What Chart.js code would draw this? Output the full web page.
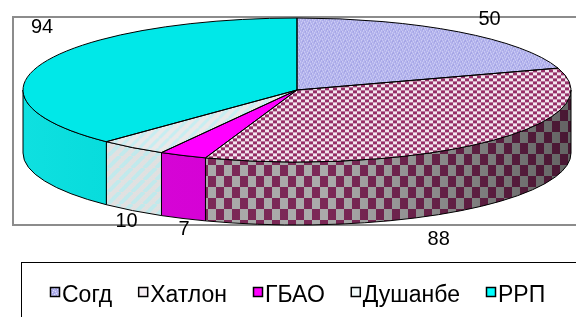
<!DOCTYPE html>
<html>
<head>
<meta charset="utf-8">
<script src="https://cdn.jsdelivr.net/npm/chart.js@4/dist/chart.umd.min.js"></script>
<style>
html, body { margin: 0; padding: 0; background: #fff; }
canvas { display: block; }
</style>
</head>
<body>
<canvas id="regionChart" width="576" height="317"></canvas>
<script>
const regions = ["Согд", "Хатлон", "ГБАО", "Душанбе", "РРП"];
const counts = [50, 88, 7, 10, 94];

// tilted pie geometry (screen pixels)
const CX = 297, CY = 90, RX = 274, RY = 72, DEPTH = 63;
const FONT = "'Liberation Sans', Arial, sans-serif";

function makePattern(w, h, draw, squash) {
    const c = document.createElement("canvas");
    c.width = w;
    c.height = h;
    const g = c.getContext("2d");
    draw(g, w, h);
    const p = g.createPattern(c, "repeat");
    if (squash) {
        // top face is drawn in a y-squashed space, undo it for the tile
        p.setTransform(new DOMMatrix([1, 0, 0, RX / RY, 0, 0]));
    }
    return p;
}

function speckle(g) {
    g.fillStyle = "#b2b2ec";
    g.fillRect(0, 0, 6, 6);
    g.fillStyle = "#dcdcfa";
    [[0, 0], [3, 1], [1, 3], [4, 4], [2, 5], [5, 2]].forEach(p => g.fillRect(p[0], p[1], 1, 1));
    g.fillStyle = "#9a9ae0";
    [[2, 1], [5, 5], [0, 4]].forEach(p => g.fillRect(p[0], p[1], 1, 1));
}

function checker(cw, ch, dark, light) {
    return (g) => {
        g.fillStyle = light;
        g.fillRect(0, 0, cw * 2, ch * 2);
        g.fillStyle = dark;
        g.fillRect(0, 0, cw, ch);
        g.fillRect(cw, ch, cw, ch);
    };
}

function stripes(size, base, line, width) {
    return (g) => {
        g.fillStyle = base;
        g.fillRect(0, 0, size, size);
        g.strokeStyle = line;
        g.lineWidth = width;
        g.beginPath();
        for (let k = -1; k <= 1; k++) {
            g.moveTo(k * size, size);
            g.lineTo(k * size + size, 0);
        }
        g.stroke();
    };
}

const topFills = [
    makePattern(6, 6, speckle, true),
    makePattern(8, 6, checker(4, 3, "#962f68", "#f3e6ef"), true),
    "#ff00ff",
    makePattern(10, 10, stripes(10, "#e9e9e9", "#c6eef2", 3), true),
    "#00e8e8"
];

const sideFills = [
    "#a0a0dc",
    makePattern(16, 22, checker(8, 11, "#7c2857", "#ababab"), false),
    "#d800d8",
    makePattern(12, 12, stripes(12, "#e3e3e3", "#c2ecef", 4), false),
    "#00dede"
];

const legendFills = [
    makePattern(6, 6, speckle, false),
    "#f6eef3",
    "#ff00ff",
    "#f2fafa",
    "#00ffff"
];

// label offsets from the slice edge point
const labelNudge = [[31, -14], [-49, 33], [1, 10], [-6, 9], [-1, -37]];

function ellipsePath(ctx, y, a1, a2, ccw) {
    ctx.ellipse(CX, y, RX, RY, 0, a1, a2, ccw);
}

const pie3d = {
    id: "pie3d",

    beforeDraw(chart) {
        const ctx = chart.ctx;
        ctx.save();
        ctx.strokeStyle = "#8c8c8c";
        ctx.lineWidth = 2;
        ctx.strokeRect(13, 17, 600, 208);
        ctx.restore();
    },

    beforeDatasetsDraw(chart) {
        const ctx = chart.ctx;
        const arcs = chart.getDatasetMeta(0).data;

        // front walls
        const shade = ctx.createLinearGradient(CX - RX, 0, CX + RX, 0);
        shade.addColorStop(0, "rgba(255,255,255,0.06)");
        shade.addColorStop(0.55, "rgba(0,0,0,0)");
        shade.addColorStop(1, "rgba(0,0,0,0.42)");

        ctx.save();
        arcs.forEach((arc, i) => {
            const s = Math.max(arc.startAngle, 0);
            const e = Math.min(arc.endAngle, Math.PI);
            if (e <= s) return;
            ctx.beginPath();
            ellipsePath(ctx, CY, s, e, false);
            ellipsePath(ctx, CY + DEPTH, e, s, true);
            ctx.closePath();
            ctx.fillStyle = sideFills[i];
            ctx.fill();
            ctx.fillStyle = shade;
            ctx.fill();
            ctx.strokeStyle = "#000";
            ctx.lineWidth = 1;
            ctx.stroke();
        });
        ctx.restore();

        // squash the library's round pie into the top ellipse
        const a = arcs[0];
        ctx.save();
        ctx.translate(CX, CY);
        ctx.scale(RX / a.outerRadius, RY / a.outerRadius);
        ctx.translate(-a.x, -a.y);
    },

    afterDatasetsDraw(chart) {
        const ctx = chart.ctx;
        ctx.restore();

        const arcs = chart.getDatasetMeta(0).data;

        ctx.save();
        ctx.strokeStyle = "#000";
        ctx.lineWidth = 1;
        arcs.forEach(arc => {
            ctx.beginPath();
            ctx.moveTo(CX, CY);
            ellipsePath(ctx, CY, arc.startAngle, arc.endAngle, false);
            ctx.closePath();
            ctx.stroke();
        });

        // value labels
        ctx.fillStyle = "#000";
        ctx.font = "20px " + FONT;
        ctx.textAlign = "center";
        ctx.textBaseline = "alphabetic";
        arcs.forEach((arc, i) => {
            const mid = (arc.startAngle + arc.endAngle) / 2;
            let x = CX + RX * Math.cos(mid);
            let y = CY + RY * Math.sin(mid);
            if (Math.sin(mid) > 0) y += DEPTH;
            x += labelNudge[i][0];
            y += labelNudge[i][1];
            ctx.fillText(String(chart.data.datasets[0].data[i]), x, y + 7);
        });

        // legend
        ctx.strokeStyle = "#000";
        ctx.strokeRect(21.5, 262.5, 600, 100);
        ctx.font = "23px " + FONT;
        ctx.textAlign = "left";
        let lx = 50;
        chart.data.labels.forEach((label, i) => {
            ctx.fillStyle = legendFills[i];
            ctx.fillRect(lx, 287, 10, 10);
            ctx.strokeStyle = "#000";
            ctx.lineWidth = 1.5;
            ctx.strokeRect(lx + 0.5, 287.5, 9, 9);
            ctx.fillStyle = "#000";
            ctx.fillText(label, lx + 12, 302);
            lx += 12 + ctx.measureText(label).width + 26;
        });
        ctx.restore();
    }
};

new Chart(document.getElementById("regionChart"), {
    type: "pie",
    data: {
        labels: regions,
        datasets: [{
            data: counts,
            backgroundColor: topFills,
            borderWidth: 0,
            clip: false
        }]
    },
    options: {
        responsive: false,
        animation: false,
        events: [],
        radius: RX,
        rotation: 0,
        layout: { padding: 0 },
        plugins: {
            legend: { display: false },
            tooltip: { enabled: false }
        }
    },
    plugins: [pie3d]
});
</script>
</body>
</html>
